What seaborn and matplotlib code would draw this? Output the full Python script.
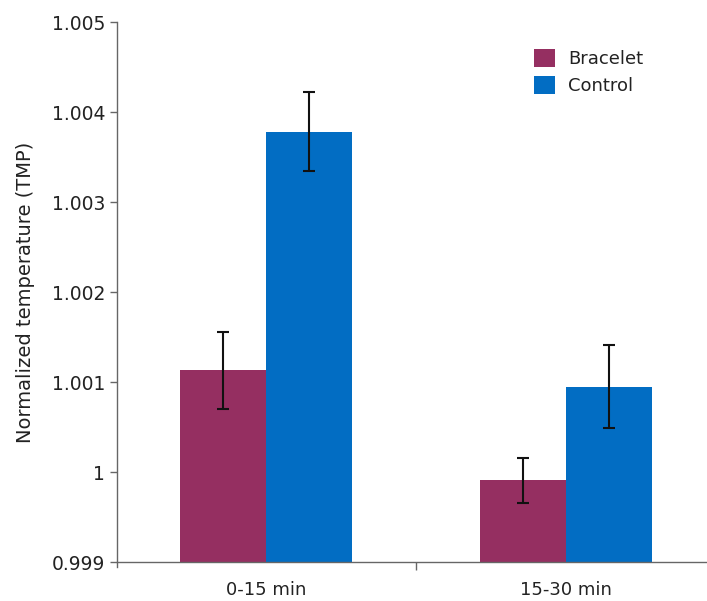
import matplotlib
matplotlib.use("Agg")
import matplotlib.pyplot as plt
import numpy as np
import pandas as pd
import seaborn as sns

# valores
periodos = ["0-15 min", "15-30 min"]
grupos = ["Bracelet", "Control"]
media_bracelet = [1.00113, 0.99991]
media_control = [1.00378, 1.00095]
err_bracelet = [0.00043, 0.00025]
err_control = [0.00044, 0.00046]
yticks = [0.999, 1.0, 1.001, 1.002, 1.003, 1.004, 1.005]
ytick_labels = ["0.999", "1", "1.001", "1.002", "1.003", "1.004", "1.005"]

colores = {"Bracelet": "#952f61", "Control": "#026dc3"}

df = pd.DataFrame({
    "periodo": periodos * 2,
    "grupo": ["Bracelet"] * 2 + ["Control"] * 2,
    "valor": media_bracelet + media_control,
    "err": err_bracelet + err_control,
})

sns.set_style("white")
plt.rcParams["font.family"] = ["DejaVu Sans"]

fig = plt.figure(figsize=(7.07, 6.01), dpi=100)
ax = fig.add_axes([117 / 707, 39 / 601, 590 / 707, 540 / 601])

sns.barplot(data=df, x="periodo", y="valor", hue="grupo", order=periodos,
            hue_order=grupos, palette=colores, width=0.573, saturation=1,
            errorbar=None, linewidth=0, ax=ax)

# barras de error, una por cada barra dibujada
for barras, g in zip(ax.containers, grupos):
    sub = df[df["grupo"] == g].set_index("periodo").loc[periodos]
    xs = [b.get_x() + b.get_width() / 2 for b in barras]
    ax.errorbar(xs, sub["valor"], yerr=sub["err"], fmt="none", ecolor="#111111",
                elinewidth=1.5, capsize=4.5, capthick=1.5)

ax.set_ylim(0.999, 1.005)
ax.set_xlim(-0.497, 1.47)
ax.set_yticks(yticks)
ax.set_yticklabels(ytick_labels)
ax.set_xticks([0, 1])
ax.set_xticklabels(periodos)
ax.tick_params(axis="x", length=0, labelsize=13, pad=14, labelcolor="#222222")
ax.tick_params(axis="y", length=5, width=1, color="#666666", labelsize=13.5,
               left=True, labelcolor="#222222")
ax.set_xticks([0.5], minor=True)
ax.tick_params(axis="x", which="minor", length=6, width=1, color="#666666", bottom=True)
ax.set_xlabel("")
ax.set_ylabel("Normalized temperature (TMP)", fontsize=14, labelpad=12, color="#222222")

for lado in ["top", "right"]:
    ax.spines[lado].set_visible(False)
for lado in ["left", "bottom"]:
    ax.spines[lado].set_color("#666666")
    ax.spines[lado].set_linewidth(1)
ax.spines["left"].set_bounds(0.99895, 1.005)

ax.legend(loc="upper left", bbox_to_anchor=(0.68, 0.98), frameon=False,
          fontsize=13, handlelength=1.15, handleheight=1.15, handletextpad=0.7,
          labelspacing=0.45, labelcolor="#222222")

fig.savefig("out.png", dpi=100)
